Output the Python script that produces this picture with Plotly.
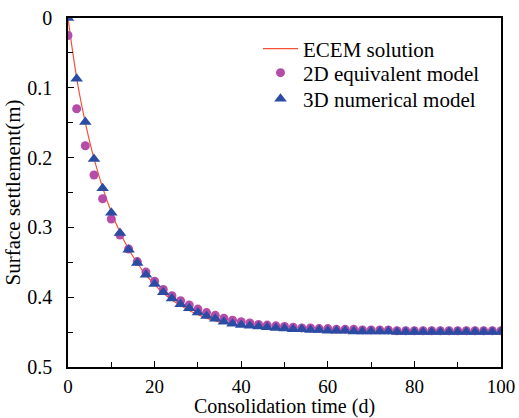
import plotly.graph_objects as go

# ---- data ----
t_pts = list(range(0, 101, 2))
settle_3d = [0.000, 0.087, 0.149, 0.202, 0.244, 0.279, 0.308, 0.332, 0.351, 0.368,
             0.381, 0.393, 0.402, 0.410, 0.416, 0.422, 0.427, 0.431, 0.435, 0.438,
             0.440, 0.441, 0.442, 0.443, 0.444, 0.445, 0.446, 0.446, 0.447, 0.447,
             0.448, 0.448, 0.448, 0.449, 0.449, 0.449, 0.449, 0.449, 0.450, 0.450,
             0.450, 0.450, 0.450, 0.450, 0.450, 0.450, 0.450, 0.450, 0.450, 0.450,
             0.450]
settle_2d = [0.025, 0.130, 0.183, 0.225, 0.259, 0.288, 0.311, 0.331, 0.349, 0.364,
             0.377, 0.389, 0.398, 0.405, 0.411, 0.417, 0.422, 0.426, 0.430, 0.433,
             0.435, 0.437, 0.439, 0.440, 0.441, 0.442, 0.443, 0.444, 0.444, 0.445,
             0.445, 0.446, 0.446, 0.446, 0.447, 0.447, 0.447, 0.447, 0.448, 0.448,
             0.448, 0.448, 0.448, 0.448, 0.448, 0.448, 0.448, 0.448, 0.448, 0.448,
             0.448]
t_line = [0, 1, 2, 3, 4, 5, 6, 8, 10, 12, 14, 16, 18, 20, 22, 24, 26, 28, 30, 32,
          34, 36, 38, 40, 42, 44, 46, 48, 50, 55, 60, 65, 70, 75, 80, 85, 90, 95, 100]
settle_line = [0.000, 0.045, 0.086, 0.120, 0.150, 0.177, 0.201, 0.243, 0.278, 0.307,
               0.331, 0.351, 0.368, 0.382, 0.394, 0.404, 0.412, 0.419, 0.425, 0.430,
               0.434, 0.437, 0.439, 0.441, 0.443, 0.444, 0.445, 0.446, 0.447, 0.448,
               0.449, 0.449, 0.450, 0.450, 0.450, 0.450, 0.450, 0.450, 0.450]

FONT = "Liberation Serif"

fig = go.Figure()
fig.add_trace(go.Scatter(x=t_line, y=settle_line, mode="lines", name="ECEM solution",
                         line=dict(color="#f5503a", width=1.2, shape="spline"),
                         legend="legend"))
fig.add_trace(go.Scatter(x=t_pts, y=settle_2d, mode="markers", name="2D equivalent model",
                         marker=dict(symbol="circle", size=9, color="#b54ca8"),
                         legend="legend2"))
fig.add_trace(go.Scatter(x=t_pts, y=settle_3d, mode="markers", name="3D numerical model",
                         marker=dict(symbol="triangle-up", size=11, color="#2c4ca3"),
                         legend="legend3"))

axis_common = dict(showline=True, linecolor="black", linewidth=1.5, mirror=True,
                   ticks="inside", ticklen=6, tickwidth=1.2, tickcolor="black",
                   showgrid=False, zeroline=False, automargin=False)

fig.update_xaxes(range=[0, 100], dtick=20, tick0=0,
                 tickfont=dict(family=FONT, size=19, color="black"),
                 minor=dict(ticks="inside", dtick=10, ticklen=5, tickwidth=1.2, tickcolor="black"),
                 title=dict(text="Consolidation time (d)", font=dict(family=FONT, size=20, color="black"), standoff=3),
                 ticklabelstandoff=1,
                 **axis_common)
fig.update_yaxes(range=[0.5, 0], dtick=0.1, tick0=0,
                 tickfont=dict(family=FONT, size=20, color="black"),
                 minor=dict(ticks="inside", dtick=0.05, ticklen=5, tickwidth=1.2, tickcolor="black"),
                 title=dict(text="Surface settlement(m)", font=dict(family=FONT, size=21, color="black"), standoff=1),
                 ticklabelstandoff=10,
                 **axis_common)

leg_common = dict(x=0.4388, xanchor="left", yanchor="middle", bgcolor="rgba(0,0,0,0)",
                  font=dict(family=FONT, size=21, color="black"), itemwidth=35,
                  borderwidth=0)
fig.update_layout(
    width=519, height=418,
    margin=dict(l=68, r=18, t=18, b=51),
    plot_bgcolor="white", paper_bgcolor="white",
    font=dict(family=FONT, size=21, color="black"),
    legend=dict(y=0.9112, **leg_common),
    legend2=dict(y=0.8424, **leg_common),
    legend3=dict(y=0.7679, **leg_common),
    showlegend=True,
)

fig.write_html("out.html")
